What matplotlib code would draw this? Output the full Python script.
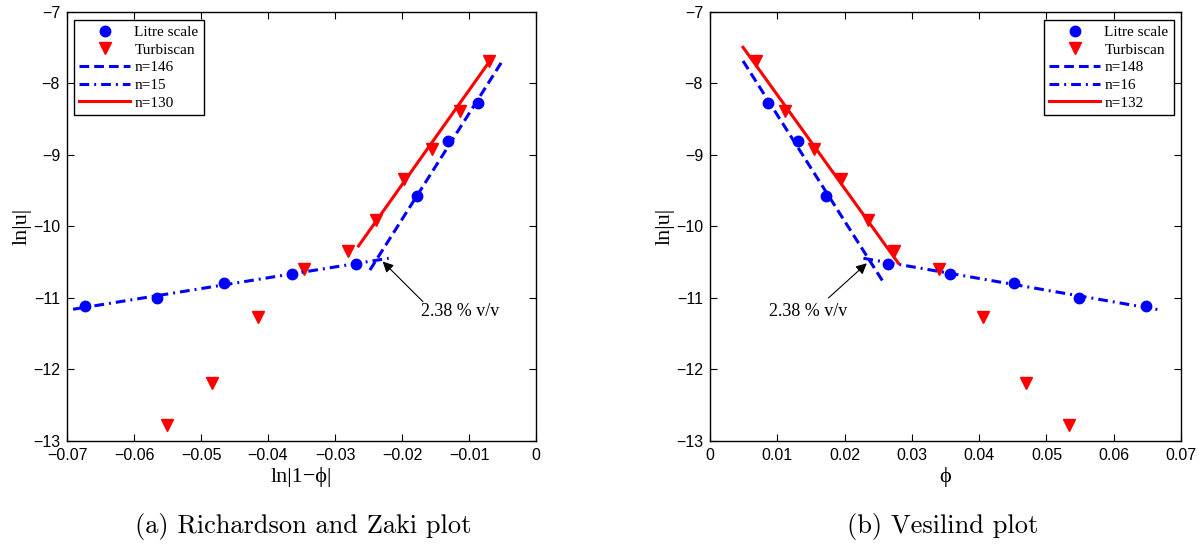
import matplotlib
matplotlib.use("Agg")
import matplotlib.pyplot as plt

# ---------------- data ----------------
# Litre scale (blue circles)
phi_litre = [0.0086, 0.0130, 0.0173, 0.0264, 0.0356, 0.0452, 0.0548, 0.0648]
lnphi_litre = [-0.0087, -0.0132, -0.0177, -0.0269, -0.0364, -0.0465, -0.0566, -0.0673]
lnu_litre = [-8.27, -8.81, -9.58, -10.53, -10.66, -10.79, -11.00, -11.11]

# Turbiscan (red triangles)
phi_turb = [0.0069, 0.0111, 0.0154, 0.0195, 0.0235, 0.0274, 0.0341, 0.0405, 0.0470, 0.0533]
lnphi_turb = [-0.0070, -0.0113, -0.0155, -0.0197, -0.0239, -0.0280, -0.0347, -0.0415, -0.0484, -0.0551]
lnu_turb = [-7.69, -8.39, -8.91, -9.34, -9.91, -10.34, -10.59, -11.26, -12.19, -12.77]

# fitted lines, panel (a)
a_n146_x = [-0.0248, -0.0051]
a_n146_y = [-10.61, -7.695]
a_n15_x = [-0.0691, -0.0220]
a_n15_y = [-11.158, -10.445]
a_n130_x = [-0.0265, -0.0069]
a_n130_y = [-10.273, -7.685]

# fitted lines, panel (b)
b_n148_x = [0.0049, 0.0259]
b_n148_y = [-7.685, -10.80]
b_n16_x = [0.0228, 0.0669]
b_n16_y = [-10.445, -11.168]
b_n132_x = [0.0049, 0.0280]
b_n132_y = [-7.494, -10.515]

labels_a = ["Litre scale", "Turbiscan", "n=146", "n=15", "n=130"]
labels_b = ["Litre scale", "Turbiscan", "n=148", "n=16", "n=132"]

xticks_a = [-0.07, -0.06, -0.05, -0.04, -0.03, -0.02, -0.01, 0.0]
xticklabels_a = ["\u22120.07", "\u22120.06", "\u22120.05", "\u22120.04",
                 "\u22120.03", "\u22120.02", "\u22120.01", "0"]
xticks_b = [0.0, 0.01, 0.02, 0.03, 0.04, 0.05, 0.06, 0.07]
xticklabels_b = ["0", "0.01", "0.02", "0.03", "0.04", "0.05", "0.06", "0.07"]
yticks = [-13, -12, -11, -10, -9, -8, -7]
yticklabels = ["\u221213", "\u221212", "\u221211", "\u221210", "\u22129", "\u22128", "\u22127"]

annot_text = "2.38 % v/v"
a_annot_head = (-0.0229, -10.49)
a_annot_tail = (-0.0169, -11.05)
a_annot_txt = (-0.0172, -11.19)
b_annot_head = (0.0233, -10.515)
b_annot_tail = (0.0176, -11.00)
b_annot_txt = (0.0088, -11.19)

caption_a = "(a) Richardson and Zaki plot"
caption_b = "(b) Vesilind plot"

# ---------------- style ----------------
plt.rcParams["lines.scale_dashes"] = False
SERIF = ["Liberation Serif", "DejaVu Serif"]
SANS = ["Liberation Sans", "DejaVu Sans"]
BLUE = (0, 0, 1)
RED = (1, 0, 0)
DASH = (0, (7.0, 3.6))
DASHDOT = (0, (7.0, 3.6, 1.4, 3.6))

fig = plt.figure(figsize=(11.99, 5.48), dpi=100)
ax_a = fig.add_axes([0.0559, 0.1953, 0.3912, 0.7829])
ax_b = fig.add_axes([0.5922, 0.1953, 0.3928, 0.7829])


def style_axes(ax, xticks, xticklabels, xlim):
    ax.set_xlim(*xlim)
    ax.set_ylim(-13, -7)
    ax.set_xticks(xticks)
    ax.set_xticklabels(xticklabels, fontfamily=SANS, fontsize=11.5)
    ax.set_yticks(yticks)
    ax.set_yticklabels(yticklabels, fontfamily=SANS, fontsize=11.5)
    ax.tick_params(direction="in", length=5, width=0.8, top=True, right=True, pad=5)
    for s in ax.spines.values():
        s.set_linewidth(1.0)
    ax.set_ylabel("ln|u|", fontfamily=SERIF, fontsize=16, labelpad=1)


def draw(ax, xl, xt, line1, line2, line3):
    h1, = ax.plot(xl, lnu_litre, "o", color=BLUE, markersize=7.5, linestyle="none")
    h2, = ax.plot(xt, lnu_turb, "v", color=RED, markersize=8.5, linestyle="none")
    h3, = ax.plot(line1[0], line1[1], color=BLUE, lw=2.2, linestyle=DASH)
    h4, = ax.plot(line2[0], line2[1], color=BLUE, lw=2.2, linestyle=DASHDOT)
    h5, = ax.plot(line3[0], line3[1], color=RED, lw=2.2, linestyle="-")
    return [h1, h2, h3, h4, h5]


def add_legend(ax, hs, labels, loc, anchor):
    leg = ax.legend(hs, labels, loc=loc, bbox_to_anchor=anchor,
                    borderaxespad=0, fancybox=False, edgecolor="k", framealpha=1,
                    prop={"family": SERIF, "size": 11}, handlelength=3.3,
                    handletextpad=0.3, labelspacing=0.26, borderpad=0.35, numpoints=1)
    leg.get_frame().set_linewidth(1.0)


# panel (a)
style_axes(ax_a, xticks_a, xticklabels_a, (-0.07, 0.0))
hs = draw(ax_a, lnphi_litre, lnphi_turb,
          (a_n146_x, a_n146_y), (a_n15_x, a_n15_y), (a_n130_x, a_n130_y))
ax_a.set_xlabel("ln|1\u2212\u03d5|", fontfamily=SERIF, fontsize=16, labelpad=3)
add_legend(ax_a, hs, labels_a, "upper left", (0.015, 0.981))
ax_a.annotate("", xy=a_annot_head, xytext=a_annot_tail,
              arrowprops=dict(arrowstyle="-|>", color="k", lw=0.8,
                              mutation_scale=16, shrinkA=0, shrinkB=0))
ax_a.text(a_annot_txt[0], a_annot_txt[1], annot_text, fontfamily=SERIF,
          fontsize=13, ha="left", va="center")

# panel (b)
style_axes(ax_b, xticks_b, xticklabels_b, (0.0, 0.07))
hs = draw(ax_b, phi_litre, phi_turb,
          (b_n148_x, b_n148_y), (b_n16_x, b_n16_y), (b_n132_x, b_n132_y))
ax_b.set_xlabel("\u03d5", fontfamily=SERIF, fontsize=16, labelpad=3)
add_legend(ax_b, hs, labels_b, "upper right", (0.985, 0.981))
ax_b.annotate("", xy=b_annot_head, xytext=b_annot_tail,
              arrowprops=dict(arrowstyle="-|>", color="k", lw=0.8,
                              mutation_scale=16, shrinkA=0, shrinkB=0))
ax_b.text(b_annot_txt[0], b_annot_txt[1], annot_text, fontfamily=SERIF,
          fontsize=13, ha="left", va="center")

# captions
fig.text(303 / 1199, 1 - 527 / 548, caption_a, fontfamily=["cmr10", "DejaVu Serif"],
         fontsize=19, ha="center", va="center")
fig.text(943 / 1199, 1 - 527 / 548, caption_b, fontfamily=["cmr10", "DejaVu Serif"],
         fontsize=19, ha="center", va="center")

fig.savefig("out.png", dpi=100)
